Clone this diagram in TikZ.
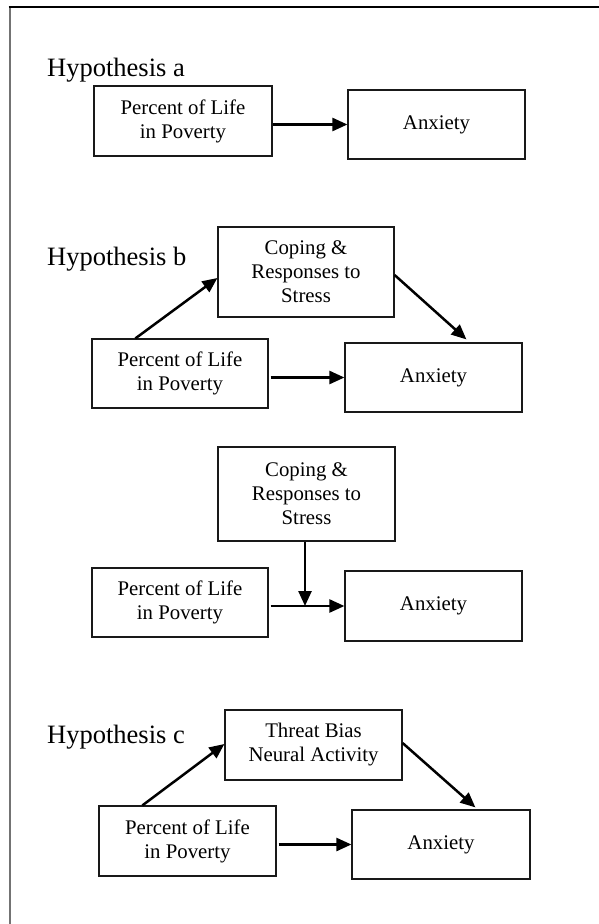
\documentclass[tikz,border=0pt]{standalone}
\usepackage{fontspec}
\setmainfont{Liberation Serif}
\usetikzlibrary{arrows.meta}
\begin{document}
\begin{tikzpicture}[x=1pt,y=-1pt,
  box/.style={draw=black!90, line width=1.2pt, rectangle, inner sep=0pt, align=center,
    font=\fontsize{20.8}{24}\selectfont},
  arr/.style={line width=2.5pt, -{Triangle[length=15pt,width=13pt]}},
  hyp/.style={anchor=base west, inner sep=0pt, font=\fontsize{26.5}{30}\selectfont}]
\useasboundingbox (0,0) rectangle (599,924);
% frame
\draw[black!55, line width=2pt] (9.5,6.5) -- (9.5,930);
\draw[black, line width=1.5pt] (8.5,7) -- (610,7);

% Hypothesis a
\node[hyp] (ha) at (47,76) {Hypothesis a};
\node[box, minimum width=178pt, minimum height=70pt] (pa) at (183,121) {Percent of Life\\in Poverty};
\node[box, minimum width=177pt, minimum height=69pt] (aa) at (436.5,124.5) {Anxiety};
\draw[arr] (pa.east |- aa.west) -- (aa.west);

% Hypothesis b
\node[hyp] (hb) at (47,265) {Hypothesis b};
\node[box, minimum width=176pt, minimum height=90pt] (cb) at (306,272) {Coping \&\\Responses to\\Stress};
\node[box, minimum width=176pt, minimum height=69pt] (pb) at (180,373.5) {Percent of Life\\in Poverty};
\node[box, minimum width=177pt, minimum height=69pt] (ab) at (433.5,377.5) {Anxiety};
\draw[arr, shorten <=2pt] (pb.east |- ab.west) -- (ab.west);
\draw[arr] ([xshift=44pt]pb.north west) -- ([yshift=-6pt]cb.west);
\draw[arr] ([yshift=-3pt]cb.east) -- ([xshift=122pt,yshift=3pt]ab.north west);

% moderation
\node[box, minimum width=177pt, minimum height=94pt] (cm) at (306.5,494) {Coping \&\\Responses to\\Stress};
\node[box, minimum width=176pt, minimum height=69pt] (pm) at (180,602.5) {Percent of Life\\in Poverty};
\node[box, minimum width=177pt, minimum height=70pt] (am) at (433.5,606) {Anxiety};
\draw[arr, shorten <=2pt] (pm.east |- am.west) -- (am.west);
\coordinate (mx) at ([xshift=-1.5pt]cm.south);
\draw[arr] (mx) -- (mx |- am.west);

% Hypothesis c
\node[hyp] (hc) at (47,743) {Hypothesis c};
\node[box, minimum width=177pt, minimum height=70pt] (tc) at (313.5,745) {Threat Bias\\Neural Activity};
\node[box, minimum width=177pt, minimum height=70pt] (pc) at (187.5,841) {Percent of Life\\in Poverty};
\node[box, minimum width=178pt, minimum height=69pt] (ac) at (441,844.5) {Anxiety};
\draw[arr, shorten <=2pt] (pc.east |- ac.west) -- (ac.west);
\draw[arr] ([xshift=44pt]pc.north west) -- ([yshift=1pt]tc.west);
\draw[arr] ([yshift=2pt]tc.east) -- ([xshift=124pt,yshift=2pt]ac.north west);
\end{tikzpicture}
\end{document}
